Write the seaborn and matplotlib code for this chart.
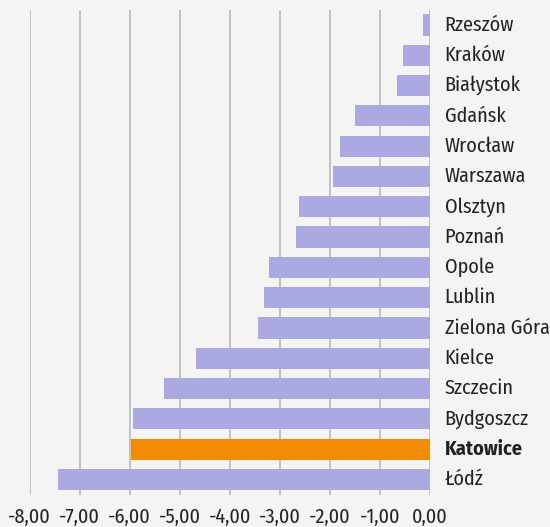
import matplotlib
matplotlib.use("Agg")
import matplotlib.pyplot as plt
import seaborn as sns
import pandas as pd

# data (top to bottom)
cities = ["Rzeszów", "Kraków", "Białystok", "Gdańsk", "Wrocław", "Warszawa",
          "Olsztyn", "Poznań", "Opole", "Lublin", "Zielona Góra", "Kielce",
          "Szczecin", "Bydgoszcz", "Katowice", "Łódź"]
values = [-0.13, -0.53, -0.65, -1.49, -1.79, -1.93, -2.61, -2.67, -3.22,
          -3.32, -3.43, -4.68, -5.32, -5.94, -5.98, -7.43]
highlight = "Katowice"
xticks = [-8, -7, -6, -5, -4, -3, -2, -1, 0]

BG = "#f4f4f4"
BAR = "#aaa9e2"
ORANGE = "#f28b05"
GRID = "#bdbdbd"
TEXT = "#222222"

sns.set_style("white")
plt.rcParams["font.family"] = ["Fira Sans Condensed", "DejaVu Sans"]

df = pd.DataFrame({"city": cities, "value": values})
colors = [ORANGE if c == highlight else BAR for c in cities]

fig = plt.figure(figsize=(5.5, 5.27), dpi=100, facecolor=BG)
ax = fig.add_axes([0.054, 0.0615, 0.7273, 0.92])
ax.set_facecolor(BG)

sns.barplot(data=df, x="value", y="city", hue="city", palette=colors,
            legend=False, width=0.7, orient="h", saturation=1,
            linewidth=0, ax=ax)

ax.set_xlim(-8, 0)
ax.set_ylim(15.5, -0.5)
ax.set_xticks(xticks)
ax.set_xticklabels([f"{t:.2f}".replace(".", ",") for t in xticks],
                   fontsize=14.5, color=TEXT)
ax.tick_params(axis="x", length=0, pad=9)
ax.set_yticks([])
ax.set_xlabel("")
ax.set_ylabel("")
for s in ax.spines.values():
    s.set_visible(False)

for t in xticks:
    ax.axvline(t, color=GRID, lw=1.3, zorder=0)

# city names to the right of the zero line
for i, c in enumerate(cities):
    ax.annotate(c, xy=(0, i), xytext=(15, 0), textcoords="offset pixels",
                ha="left", va="center", fontsize=14.5, color=TEXT,
                fontweight="bold" if c == highlight else "normal",
                annotation_clip=False)

fig.savefig("out.png", dpi=100, facecolor=BG)
plt.close()
